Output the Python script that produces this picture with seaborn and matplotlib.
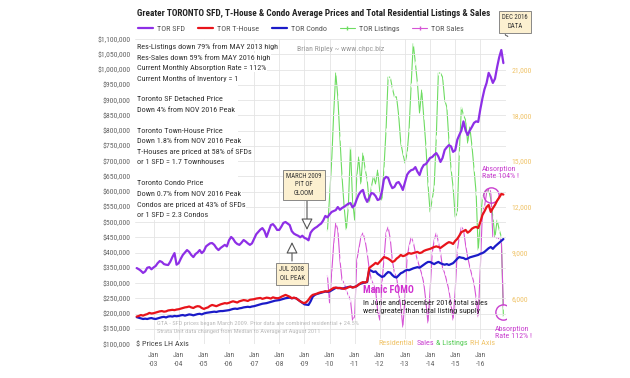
import os
import numpy as np
import pandas as pd
import matplotlib
matplotlib.use("Agg")
import matplotlib.pyplot as plt
import seaborn as sns
from matplotlib import font_manager as fm
from matplotlib.font_manager import FontProperties
from matplotlib.textpath import TextPath
from matplotlib.lines import Line2D
from matplotlib.patches import Rectangle
from matplotlib.ticker import FuncFormatter
from matplotlib.offsetbox import TextArea, HPacker, AnnotationBbox

sns.set_style("white")
plt.rcParams['font.family'] = ['Liberation Sans', 'DejaVu Sans']

# average prices in $000, monthly May 2002 - Dec 2016
sfd = [349, 345, 340, 333, 338, 350, 352, 345,
       351, 356, 365, 372, 369, 362, 360, 359, 370, 385, 398, 360,
       365, 380, 392, 400, 408, 402, 392, 385, 395, 400, 408, 398,
       405, 420, 425, 430, 431, 425, 415, 408, 415, 420, 425, 420,
       440, 451, 445, 434, 428, 425, 432, 441, 436, 430, 425, 430,
       445, 460, 467, 475, 480, 470, 451, 470, 490, 493, 485, 474,
       474, 485, 497, 500, 495, 490, 470, 462, 458, 455, 450, 455,
       448, 445, 440, 465, 474, 480, 484, 490, 495, 505, 520, 515,
       525, 533, 536, 539, 549, 540, 546, 550, 555, 560, 562, 548,
       555, 575, 590, 600, 605, 580, 566, 580, 595, 593, 585, 572,
       575, 600, 640, 648, 645, 625, 611, 615, 628, 631, 620, 605,
       630, 655, 664, 670, 672, 680, 665, 654, 675, 687, 690, 700,
       710, 713, 720, 726, 715, 697, 710, 736, 745, 752, 748, 730,
       735, 770, 785, 800, 830, 800, 785, 800, 812, 825, 830, 828,
       870, 906, 935, 956, 989, 975, 956, 970, 1008, 1040, 1064, 1021]
thouse = [190, 192, 195, 193, 196, 198, 202, 200,
          201, 203, 205, 207, 208, 206, 207, 210, 211, 212, 211, 213,
          214, 216, 218, 220, 221, 223, 220, 218, 222, 224, 223, 218,
          215, 218, 220, 225, 228, 226, 224, 227, 230, 232, 234, 233,
          235, 238, 240, 238, 236, 240, 242, 244, 243, 241, 245, 246,
          247, 249, 250, 251, 248, 250, 252, 251, 249, 253, 251, 250,
          251, 255, 258, 261, 258, 255, 250, 252, 250, 245, 240, 236,
          234, 238, 245, 255, 261, 263, 265, 268, 270, 271, 273, 272,
          275, 280, 284, 285, 283, 284, 282, 281, 283, 286, 288, 285,
          287, 290, 295, 300, 303, 301, 305, 349, 355, 360, 366, 362,
          370, 378, 385, 383, 380, 375, 369, 372, 380, 385, 392, 388,
          390, 395, 398, 396, 398, 400, 402, 398, 400, 405, 408, 410,
          412, 415, 418, 420, 418, 415, 420, 425, 430, 434, 432, 428,
          438, 445, 455, 467, 470, 474, 465, 470, 478, 482, 484, 480,
          500, 523, 535, 549, 556, 533, 545, 556, 570, 580, 592, 590]
condo = [188, 186, 184, 182, 183, 182, 184, 185,
         183, 182, 184, 186, 188, 189, 187, 190, 191, 190, 192, 191,
         192, 194, 195, 193, 195, 197, 196, 194, 196, 198, 199, 197,
         200, 202, 203, 204, 205, 206, 205, 207, 208, 208, 209, 210,
         211, 213, 215, 216, 215, 217, 218, 220, 221, 222, 221, 223,
         224, 226, 228, 230, 232, 233, 234, 236, 238, 240, 242, 243,
         244, 246, 248, 250, 251, 252, 250, 251, 250, 245, 240, 235,
         230, 229, 228, 240, 255, 261, 264, 266, 268, 270, 272, 271,
         272, 276, 280, 284, 284, 283, 282, 283, 285, 287, 288, 286,
         287, 290, 295, 298, 300, 302, 303, 343, 340, 336, 338, 330,
         325, 320, 322, 330, 336, 334, 326, 320, 318, 325, 332, 335,
         340, 343, 342, 345, 348, 350, 352, 350, 355, 360, 365, 369,
         369, 365, 362, 366, 369, 365, 362, 360, 362, 359, 362, 365,
         372, 380, 385, 383, 382, 378, 380, 384, 386, 388, 390, 392,
         396, 398, 402, 408, 414, 418, 412, 420, 426, 432, 438, 444]

# residential listings and sales, monthly Dec 2009 - Dec 2016
listings = [10400,
            12640, 15000, 18000, 20770, 19200, 16500, 14000, 12000, 10480, 12000, 15920, 12440,
            11130, 14000, 15260, 13500, 15520, 14500, 13800, 12250, 13300, 14000, 13500, 14400,
            13000, 12440, 14500, 17030, 20500, 20500, 19800, 19200, 19200, 18000, 16180, 15500,
            14870, 15500, 17030, 20000, 22700, 21430, 20110, 18150, 19650, 17880, 16000, 13500,
            11660, 12500, 13300, 16570, 20770, 20770, 20500, 19000, 18540, 16380, 14500, 13300,
            11330, 11600, 15520, 18540, 18000, 17690, 16180, 17230, 16000, 14500, 12900, 9160,
            10930, 12640, 12900, 13100, 13100, 12500, 11330, 10010, 11130, 10500, 10020, 4800]
sales = [7500,
         5700, 7650, 9500, 10930, 10500, 8500, 7200, 7000, 6500, 6200, 5890, 4570,
         4800, 8500, 9200, 10000, 10280, 9800, 9000, 7900, 7200, 6900, 6540, 5200,
         4570, 7000, 8500, 10280, 10670, 9900, 8500, 7650, 7400, 6340, 5500, 4110,
         6000, 8700, 9400, 10000, 9700, 9000, 8500, 8050, 7600, 7000, 5800, 4380,
         6500, 8970, 9800, 10280, 9700, 9000, 8000, 7650, 7100, 6540, 5600, 4570,
         6500, 9160, 10000, 10670, 10500, 9500, 8700, 8050, 7500, 7000, 6000, 4770,
         8000, 11790, 12000, 12900, 13170, 13000, 10020, 10000, 9950, 9900, 9820, 5400]

price_dates = pd.date_range('2002-05-01', periods=len(sfd), freq='MS')
flow_dates = pd.date_range('2009-12-01', periods=len(listings), freq='MS')
years = list(range(2003, 2017))

C_SFD = '#8E2FE6'
C_TH = '#E8141B'
C_CONDO = '#1B1BC8'
C_LIST = '#6EDC62'
C_SALES = '#D654D6'
C_GOLD = '#F0C46A'
C_MAG = '#C93FCF'
BEIGE = '#FCF0D0'

W, H = 630, 378


def fp(x, y):
    # pixel position (from top-left) -> figure fraction
    return (x / W, 1 - y / H)


# the reference uses a narrow sans; look for one, else shrink Liberation Sans
def find_narrow():
    found = {}
    for f in fm.fontManager.ttflist:
        base = os.path.basename(f.fname).lower()
        if f.stretch != 'condensed' and 'narrow' not in base and 'condensed' not in base:
            continue
        if any(w in base for w in ('extra', 'ultra', 'semi', 'italic', 'oblique', 'light', 'medium', 'thin', 'black')):
            continue
        key = 'bold' if str(f.weight) in ('700', 'bold') else 'regular'
        if str(f.weight) not in ('400', 'normal', 'regular', 'book', '700', 'bold'):
            continue
        for rank, fam in enumerate(['roboto', 'liberation', 'noto', 'open', 'dejavu']):
            if fam in base:
                found.setdefault(key, []).append((rank, f.fname))
    if 'regular' not in found:
        return None, None
    reg = sorted(found['regular'])[0][1]
    bold = sorted(found['bold'])[0][1] if 'bold' in found else reg
    return reg, bold


REG, BOLD = find_narrow()


def base_font(bold=False):
    if REG:
        return FontProperties(fname=BOLD if bold else REG)
    return FontProperties(family='Liberation Sans', weight='bold' if bold else 'normal')


def width_px(s, prop, size):
    p = prop.copy()
    p.set_size(size)
    return TextPath((0, 0), s, prop=p).get_extents().width * 100 / 72


# a little wider than the reference so the text stays readable
K = 1.1 * 128 / width_px('Res-Listings down 79% from MAY 2013 high', base_font(), 7)
KB = 355 / width_px('Greater TORONTO SFD, T-House & Condo Average Prices and Total Residential Listings & Sales',
                    base_font(True), 8)


def font(size, bold=False):
    p = base_font(bold)
    p.set_size(size * (KB if bold else K))
    return p


fig = plt.figure(figsize=(6.3, 3.78), dpi=100)
ax = fig.add_axes([135 / W, 1 - 344 / H, (506 - 135) / W, (344 - 39) / H])
ax2 = ax.twinx()
ax.set_zorder(2)
ax.patch.set_visible(False)

# listings & sales, right axis
sns.lineplot(x=flow_dates, y=listings, ax=ax2, color=C_LIST, lw=0.8,
             marker='|', markersize=2.5, markeredgewidth=0.6)
sns.lineplot(x=flow_dates, y=sales, ax=ax2, color=C_SALES, lw=0.8,
             marker='|', markersize=2.5, markeredgewidth=0.6)

# prices, left axis
sns.lineplot(x=price_dates, y=np.array(condo) * 1000, ax=ax, color=C_CONDO, lw=1.6)
sns.lineplot(x=price_dates, y=np.array(thouse) * 1000, ax=ax, color=C_TH, lw=1.6)
sns.lineplot(x=price_dates, y=np.array(sfd) * 1000, ax=ax, color=C_SFD, lw=1.6)

ax.set_xlim(pd.Timestamp('2002-04-06'), pd.Timestamp('2017-01-08'))
ax.set_ylim(100000, 1100000)
ax2.set_ylim(3000, 23000)

ax.set_yticks(np.arange(100000, 1100001, 50000))
ax.yaxis.set_major_formatter(FuncFormatter(lambda v, p: f'${v:,.0f}'))
ax2.set_yticks(np.arange(6000, 21001, 3000))
ax2.yaxis.set_major_formatter(FuncFormatter(lambda v, p: f'{v:,.0f}'))
ax.set_xticks([pd.Timestamp(f'{y}-01-01') for y in years])
ax.set_xticklabels([f'Jan\n-{y % 100:02d}' for y in years])
ax.set_xlabel('')
ax.set_ylabel('')
ax2.set_ylabel('')

ax.tick_params(axis='both', length=0, labelcolor='#666666')
ax.tick_params(axis='y', pad=3)
ax.tick_params(axis='x', pad=6)
ax2.tick_params(axis='y', length=0, labelcolor=C_GOLD, pad=4)
for lab in ax.get_xticklabels() + ax.get_yticklabels() + ax2.get_yticklabels():
    lab.set_fontproperties(font(6.6))
for lab in ax.get_xticklabels():
    lab.set_linespacing(1.5)
for a in (ax, ax2):
    for s in a.spines.values():
        s.set_visible(False)
ax.set_axisbelow(True)
ax.grid(True, color='#e4e4e4', lw=0.6)
ax2.grid(False)

# white panel behind text block
ax.add_patch(Rectangle(fp(135, 220), (238 - 135) / W, (220 - 40) / H,
                       transform=fig.transFigure, fc='white', ec='none', zorder=1))

# title and legend
fig.text(*fp(314, 14), 'Greater TORONTO SFD, T-House & Condo Average Prices and Total Residential Listings & Sales',
         ha='center', va='center', fontproperties=font(8, True), color='#222222')
handles = [Line2D([], [], color=C_SFD, lw=1.6),
           Line2D([], [], color=C_TH, lw=1.6),
           Line2D([], [], color=C_CONDO, lw=1.6),
           Line2D([], [], color=C_LIST, lw=0.8, marker='|', ms=3),
           Line2D([], [], color=C_SALES, lw=0.8, marker='|', ms=3)]
labels = ['TOR SFD', 'TOR T-House', 'TOR Condo', 'TOR Listings', 'TOR Sales']
fig.legend(handles, labels, loc='center', bbox_to_anchor=fp(301, 29), ncol=5, frameon=False,
           prop=font(7), labelcolor='#555555',
           handlelength=1.8, handletextpad=0.5, columnspacing=1.6)

fig.text(*fp(341, 49), 'Brian Ripley ~ www.chpc.biz', ha='center', va='center',
         fontproperties=font(6.6), color='#999999')

# commentary block
block = ['Res-Listings down 79% from MAY 2013 high',
         'Res-Sales down 59% from MAY 2016 high',
         'Current Monthly Absorption Rate = 112%',
         'Current Months of Inventory = 1',
         '',
         'Toronto SF Detached Price',
         'Down 4% from NOV 2016 Peak',
         '',
         'Toronto Town-House Price',
         'Down 1.8% from NOV 2016 Peak',
         'T-Houses are priced at 58% of SFDs',
         'or 1 SFD = 1.7 Townhouses',
         '',
         'Toronto Condo Price',
         'Down 0.7% from NOV 2016 Peak',
         'Condos are priced at 43% of SFDs',
         'or 1 SFD = 2.3 Condos']
for i, line in enumerate(block):
    if line:
        fig.text(*fp(137, 46.7 + i * 10.5), line, ha='left', va='center', fontproperties=font(7),
                 color='#333333', bbox=dict(fc='white', ec='none', pad=0.6))

# callouts
box = dict(boxstyle='square,pad=0.45', fc=BEIGE, ec='#777777', lw=0.6)
arrow = dict(arrowstyle='-|>,head_length=0.7,head_width=0.35', fc='white', ec='#555555',
             lw=0.8, shrinkA=0, shrinkB=0)
fig.text(*fp(304, 185), 'MARCH 2009\nPIT OF\nGLOOM', ha='center', va='center', fontproperties=font(5.8),
         color='#333333', linespacing=1.35, bbox=box)
ax.annotate('', xy=fp(307, 230), xytext=fp(307, 201), xycoords='figure fraction',
            textcoords='figure fraction', arrowprops=arrow)
fig.text(*fp(292, 274), 'JUL 2008\nOIL PEAK', ha='center', va='center', fontproperties=font(5.8),
         color='#333333', linespacing=1.35, bbox=box)
ax.annotate('', xy=fp(292, 242), xytext=fp(292, 261), xycoords='figure fraction',
            textcoords='figure fraction', arrowprops=arrow)
ax.annotate('DEC 2016\nDATA', xy=fp(505, 38), xytext=fp(515, 22), xycoords='figure fraction',
            textcoords='figure fraction', ha='center', va='center', fontproperties=font(5.8),
            color='#333333', linespacing=1.35,
            bbox=dict(boxstyle='square,pad=0.45', fc=BEIGE, ec='#777777', lw=0.6),
            arrowprops=dict(arrowstyle='wedge,tail_width=0.5', fc=BEIGE, ec='#777777', lw=0.6))

# absorption circles
ax2.plot([flow_dates[-7]], [(sales[-7] + listings[-7]) / 2], 'o', mfc='none', mec=C_MAG, mew=1, ms=11)
ax2.plot([flow_dates[-1]], [(sales[-1] + listings[-1]) / 2], 'o', mfc='none', mec=C_MAG, mew=1, ms=11)
fig.text(*fp(482, 173), 'Absorption\nRate 104% !', ha='left', va='center', fontproperties=font(6.8),
         color=C_MAG, linespacing=1.2)
fig.text(*fp(495, 332), 'Absorption\nRate 112% !', ha='left', va='center', fontproperties=font(6.8),
         color=C_MAG, linespacing=1.2)

fig.text(*fp(363, 290), 'Manic FOMO', ha='left', va='center', fontproperties=font(8.5, True),
         color='#D030D0')
fig.text(*fp(363, 307), 'In June and December 2016 total sales\nwere greater than total listing supply',
         ha='left', va='center', fontproperties=font(7), color='#222222', linespacing=1.25)

fig.text(*fp(157, 327.5), 'GTA - SFD prices began March 2009. Prior data are combined residential + 24.5%\n'
         'Strata Unit data changed from Median to Average at August 2011',
         ha='left', va='center', fontproperties=font(5.5), color='#BBBBBB', linespacing=1.3)

fig.text(*fp(136, 344), '$ Prices LH Axis', ha='left', va='center', fontproperties=font(7),
         color='#444444', bbox=dict(fc='white', ec='none', pad=0.6))

parts = [('Residential', C_GOLD), ('Sales', C_MAG), ('& Listings', '#55CC55'), ('RH Axis', C_GOLD)]
pack = HPacker(children=[TextArea(t, textprops=dict(color=c, fontproperties=font(7))) for t, c in parts],
               sep=1.6, pad=0, align='baseline')
ab = AnnotationBbox(pack, fp(437, 343), xycoords='figure fraction', frameon=True,
                    bboxprops=dict(fc='white', ec='none'), pad=0.1, zorder=5)
fig.add_artist(ab)

fig.savefig('out.png', dpi=100)
